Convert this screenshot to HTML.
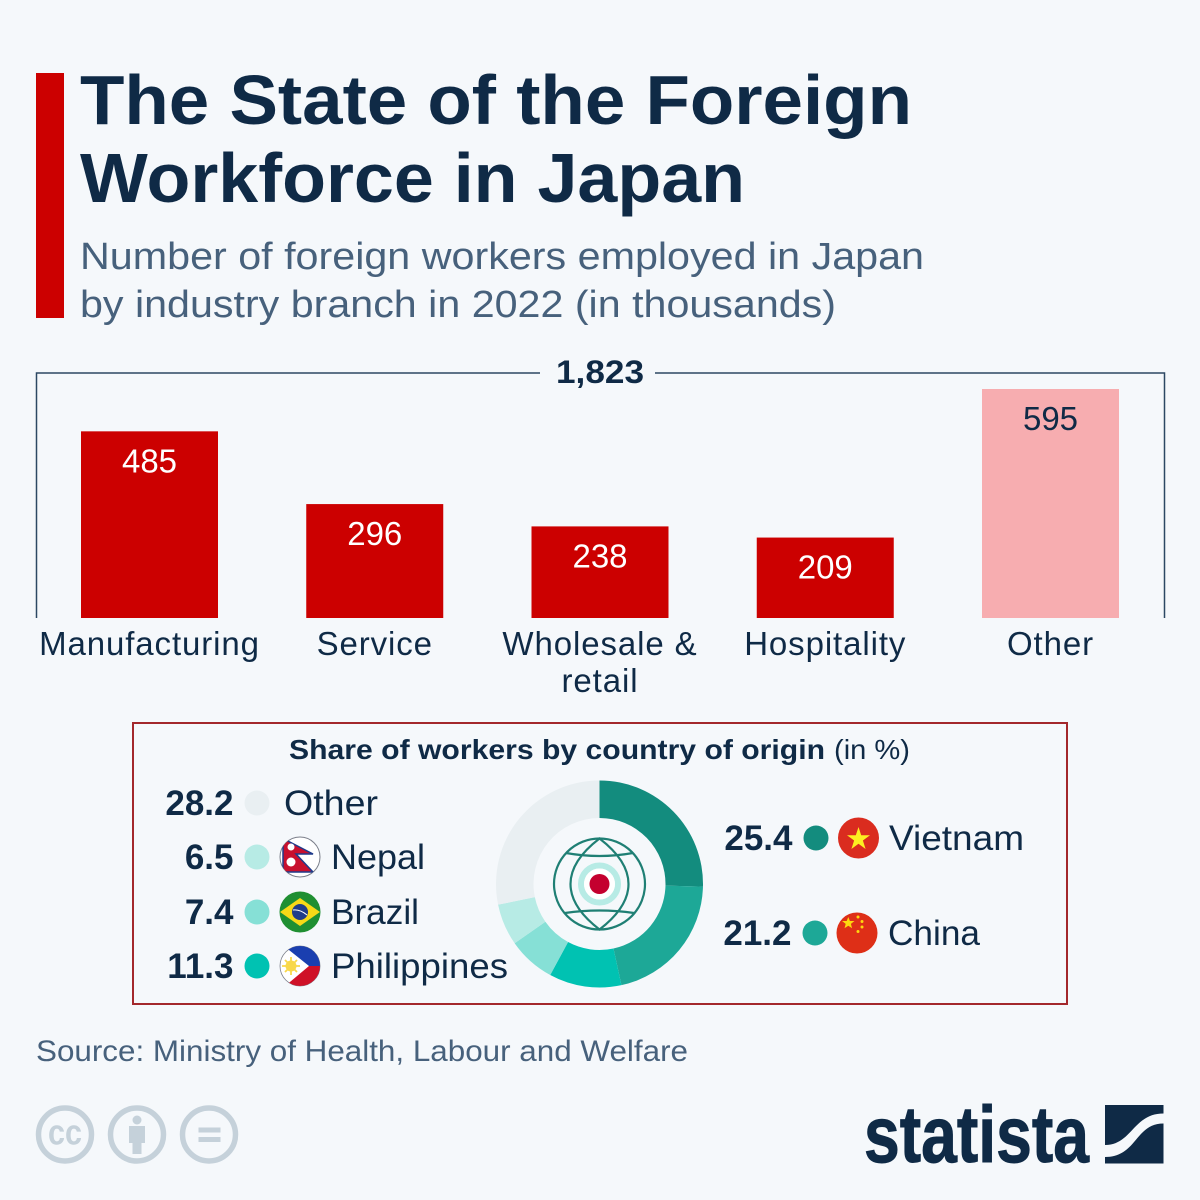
<!DOCTYPE html>
<html lang="en">
<head>
<meta charset="utf-8">
<title>The State of the Foreign Workforce in Japan</title>
<style>
html,body{margin:0;padding:0;background:#f5f8fb;}
svg{display:block;font-family:"Liberation Sans",sans-serif;}
</style>
</head>
<body>
<svg id="chart" xmlns="http://www.w3.org/2000/svg" width="1200" height="1200" viewBox="0 0 1200 1200">
  <rect width="1200" height="1200" fill="#f5f8fb"/>
  <rect x="36" y="73" width="28" height="245" fill="#cc0000"/>
  <g fill="#0f2a46" font-weight="700" font-size="70">
    <text x="80" y="124" textLength="832" lengthAdjust="spacingAndGlyphs">The State of the Foreign</text>
    <text x="80" y="202" textLength="665" lengthAdjust="spacingAndGlyphs">Workforce in Japan</text>
  </g>
  <g fill="#47617c" font-size="38">
    <text x="80" y="269" textLength="844" lengthAdjust="spacingAndGlyphs">Number of foreign workers employed in Japan</text>
    <text x="80" y="317" textLength="756" lengthAdjust="spacingAndGlyphs">by industry branch in 2022 (in thousands)</text>
  </g>

  <path d="M36.5 618V373H540" fill="none" stroke="#2c4763" stroke-width="1.5"/>
  <path d="M655 373H1164.5V618" fill="none" stroke="#2c4763" stroke-width="1.5"/>
  <text x="556" y="383" font-size="32" font-weight="700" fill="#0f2a46" textLength="88" lengthAdjust="spacingAndGlyphs">1,823</text>

  <g id="bars"></g>

  <rect x="133" y="723" width="934" height="281" fill="none" stroke="#a3282c" stroke-width="2"/>
  <text x="289" y="759" font-size="28" fill="#0f2a46"><tspan font-weight="700" textLength="536" lengthAdjust="spacingAndGlyphs">Share of workers by country of origin</tspan></text>
  <text x="834" y="759" font-size="28" fill="#0f2a46" textLength="76" lengthAdjust="spacingAndGlyphs">(in %)</text>

  <g id="donut"></g>
  <g id="legend"></g>

  <g fill="none" stroke="#1f7f74" stroke-width="2.2">
    <circle cx="599.5" cy="884" r="45.5"/>
    <path d="M599.5 838.5C578 855 570.500 870 570.500 884C570.500 898 578 913 599.500 929.500C621 913 628.500 898 628.500 884C628.500 870 621 855 599.500 838.500Z"/>
    <path d="M566 853Q599.500 859 633 853"/>
    <path d="M565 913Q599.500 908 634 913"/>
    <circle cx="599.5" cy="884" r="18.500" stroke="#b7ebe5" stroke-width="6"/>
    <circle cx="599.5" cy="884" r="15.500" fill="#ffffff" stroke="none"/>
    <circle cx="599.5" cy="884" r="10" fill="#c4002f" stroke="none"/>
  </g>

  <defs>
    <clipPath id="clip-nepal"><circle cx="300" cy="857" r="20"/></clipPath>
    <clipPath id="clip-brazil"><circle cx="300" cy="912" r="20"/></clipPath>
    <clipPath id="clip-phil"><circle cx="300" cy="966" r="20"/></clipPath>
    <clipPath id="clip-china"><circle cx="857" cy="933" r="20.500"/></clipPath>
  </defs>

  <g>
    <circle cx="300" cy="857" r="20" fill="#ffffff" stroke="#7b7f8a" stroke-width="1"/>
    <g clip-path="url(#clip-nepal)">
      <path d="M283 838.500L313 854H296L313 872H283Z" fill="#c8102e" stroke="#1f3a8a" stroke-width="1.500"/>
      <circle cx="291" cy="847" r="3.500" fill="#ffffff"/>
      <circle cx="291" cy="862" r="4.500" fill="#ffffff"/>
    </g>
  </g>
  <g>
    <circle cx="300" cy="912" r="20.500" fill="#1f8f32"/>
    <g clip-path="url(#clip-brazil)">
      <path d="M280 912L300 898L320 912L300 926Z" fill="#f7d917"/>
      <circle cx="300" cy="912" r="8" fill="#1f3d8a"/>
      <path d="M293 910Q300 909 307 915" fill="none" stroke="#ffffff" stroke-width="1"/>
    </g>
  </g>
  <g>
    <circle cx="300" cy="966" r="20" fill="#ffffff" stroke="#7b7f8a" stroke-width="0.800"/>
    <g clip-path="url(#clip-phil)">
      <path d="M284 946H321V966H309Z" fill="#1a3fb0"/>
      <path d="M284 987H321V966H309Z" fill="#cf1127"/>
      <circle cx="291" cy="966" r="5.500" fill="#f8d84a"/>
      <path d="M291 957V975M282 966H300M285 960L297 972M297 960L285 972" stroke="#f8d84a" stroke-width="1.800"/>
    </g>
  </g>
  <g>
    <circle cx="858.500" cy="838" r="20.500" fill="#da2c1f"/>
    <polygon points="858.500,827 861.200,835.300 870,835.300 862.900,840.500 865.600,849 858.500,843.800 851.400,849 854.100,840.500 847,835.300 855.800,835.300" fill="#fdee21"/>
  </g>
  <g>
    <circle cx="857" cy="933" r="20.500" fill="#de2f17"/>
    <polygon points="848.300,917 849.900,921 854.500,921 850.900,923.900 852.100,928.200 848.300,925.700 844.500,928.200 845.700,923.900 842,921 846.700,921" fill="#fdd80f"/>
    <circle cx="858" cy="917" r="1.500" fill="#fdd80f"/>
    <circle cx="862" cy="921.500" r="1.500" fill="#fdd80f"/>
    <circle cx="862" cy="927" r="1.500" fill="#fdd80f"/>
    <circle cx="858" cy="931.500" r="1.500" fill="#fdd80f"/>
  </g>

  <g fill="#0f2a46" font-size="35">
    <text x="284" y="815" textLength="94" lengthAdjust="spacingAndGlyphs">Other</text>
    <text x="331" y="869" textLength="94" lengthAdjust="spacingAndGlyphs">Nepal</text>
    <text x="331" y="924" textLength="88" lengthAdjust="spacingAndGlyphs">Brazil</text>
    <text x="331" y="978" textLength="177" lengthAdjust="spacingAndGlyphs">Philippines</text>
    <text x="889" y="850" textLength="135" lengthAdjust="spacingAndGlyphs">Vietnam</text>
    <text x="888" y="945" textLength="92" lengthAdjust="spacingAndGlyphs">China</text>
  </g>

  <text x="36" y="1061" font-size="30" fill="#47617c" textLength="652" lengthAdjust="spacingAndGlyphs">Source: Ministry of Health, Labour and Welfare</text>

  <g fill="none" stroke="#c5d1da" stroke-width="5.500">
    <g>
      <circle cx="65" cy="1134.500" r="26.500"/>
      <text x="65" y="1144.500" text-anchor="middle" font-size="36" font-weight="700" fill="#c5d1da" stroke="none" textLength="34" lengthAdjust="spacingAndGlyphs">cc</text>
    </g>
    <g>
      <circle cx="137" cy="1134.500" r="26.500"/>
      <circle cx="137" cy="1120" r="4.500" fill="#c5d1da" stroke="none"/>
      <path d="M129 1126H145V1143H141.500V1154H132.500V1143H129Z" fill="#c5d1da" stroke="none"/>
    </g>
    <g>
      <circle cx="209" cy="1134.500" r="26.500"/>
      <rect x="198.500" y="1127.500" width="22" height="5" fill="#c5d1da" stroke="none"/>
      <rect x="198.500" y="1137" width="22" height="5" fill="#c5d1da" stroke="none"/>
    </g>
  </g>

  <g fill="#0f2a46">
    <text x="864" y="1162" font-size="80" font-weight="700" stroke="#0f2a46" stroke-width="1" textLength="225" lengthAdjust="spacingAndGlyphs">statista</text>
    <path d="M1105 1105H1163.500V1113.500C1133 1113.500 1132 1145 1105 1145Z"/>
    <path d="M1105 1157C1137 1157 1135 1123.500 1163.500 1123.500V1163.500H1105Z"/>
  </g>
</svg>

<script>
const industries = [["Manufacturing"], ["Service"], ["Wholesale &", "retail"], ["Hospitality"], ["Other"]];
const workers = [485, 296, 238, 209, 595];
const originNames = ["Vietnam", "China", "Philippines", "Brazil", "Nepal", "Other"];
const originShares = [25.4, 21.2, 11.3, 7.4, 6.5, 28.2];

const NS = 'http://www.w3.org/2000/svg';
function make(tag, parent, attrs, text) {
  const el = document.createElementNS(NS, tag);
  for (const key in attrs) el.setAttribute(key, attrs[key]);
  if (text !== undefined) el.textContent = text;
  parent.appendChild(el);
  return el;
}

/* bar chart axes */
const baseY = 618;
const pxPerUnit = 229 / 595;
const barWidth = 137;
const yScale = v => baseY - v * pxPerUnit;
const xCenter = i => 149.5 + i * 225.25;

const barsGroup = document.getElementById('bars');
workers.forEach((value, i) => {
  const isOther = i === workers.length - 1;
  const bar = make('rect', barsGroup, {
    x: xCenter(i) - barWidth / 2,
    y: yScale(value),
    width: barWidth,
    height: baseY - yScale(value),
    fill: isOther ? '#f7adb0' : '#cc0000'
  });
  
  

  const valueLabel = make('text', barsGroup, {
    x: xCenter(i),
    y: yScale(value) + 41,
    'text-anchor': 'middle',
    'font-size': 33,
    fill: isOther ? '#0f2a46' : '#ffffff'
  }, String(value));
  
  

  industries[i].forEach((line, j) => {
    const label = make('text', barsGroup, {
      x: xCenter(i),
      y: 655 + j * 37,
      'text-anchor': 'middle',
      'font-size': 33,
      'letter-spacing': 0.9,
      fill: '#0f2a46'
    }, line);
    
    
  });
});

/* donut */
const donutColors = ['#138c7e', '#1da897', '#00c2b2', '#86e0d6', '#b7ebe5', '#e9eff2'];
const cx = 599.5, cy = 884, rOuter = 103.5, rInner = 66;
const shareTotal = originShares.reduce((a, b) => a + b, 0);
const angleOf = v => v / shareTotal * 2 * Math.PI;
const polar = (r, a) => (cx + r * Math.sin(a)).toFixed(2) + ' ' + (cy - r * Math.cos(a)).toFixed(2);
const donutGroup = document.getElementById('donut');
let runningShare = 0;
originShares.forEach((share, i) => {
  const a0 = angleOf(runningShare);
  const a1 = angleOf(runningShare + share);
  runningShare += share;
  const large = a1 - a0 > Math.PI ? 1 : 0;
  const slice = make('path', donutGroup, {
    d: 'M' + polar(rOuter, a0) + 'A' + rOuter + ' ' + rOuter + ' 0 ' + large + ' 1 ' + polar(rOuter, a1) +
       'L' + polar(rInner, a1) + 'A' + rInner + ' ' + rInner + ' 0 ' + large + ' 0 ' + polar(rInner, a0) + 'Z',
    fill: donutColors[i]
  });
  
  
});

/* legend values and dots, row anchors in the same order as originShares */
const legendGroup = document.getElementById('legend');
const legendRows = [
  {vx: 792.5, dx: 816, y: 838},
  {vx: 791.5, dx: 815, y: 933},
  {vx: 233.5, dx: 257, y: 966},
  {vx: 233.5, dx: 257, y: 912},
  {vx: 233.5, dx: 257, y: 857},
  {vx: 233.5, dx: 257, y: 803}
];
originShares.forEach((share, i) => {
  const row = legendRows[i];
  const dot = make('circle', legendGroup, {cx: row.dx, cy: row.y, r: 12.5, fill: donutColors[i]});
  
  
  const val = make('text', legendGroup, {
    x: row.vx,
    y: row.y + 12,
    'text-anchor': 'end',
    'font-size': 35,
    'font-weight': 700,
    fill: '#0f2a46'
  }, share.toFixed(1));
  
  
});
</script>
</body>
</html>
